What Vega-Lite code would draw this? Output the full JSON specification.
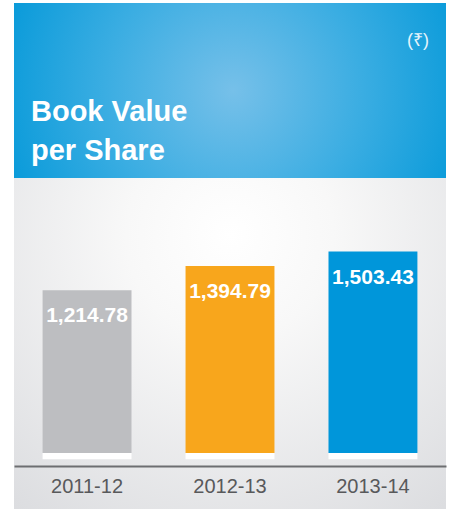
{
  "$schema": "https://vega.github.io/schema/vega-lite/v6.json",
  "padding": {"left": 14, "top": 3, "right": 5, "bottom": 0},
  "spacing": 0,
  "background": "white",
  "config": {
    "view": {"stroke": null},
    "font": "Liberation Sans"
  },
  "title": {
    "text": "(₹)",
    "orient": "top",
    "anchor": "end",
    "frame": "group",
    "offset": -61,
    "dx": -17,
    "baseline": "alphabetic",
    "fontSize": 18,
    "fontWeight": "normal",
    "color": "#e6f4fb"
  },
  "vconcat": [
    {
      "width": 432,
      "height": 175,
      "data": {"values": [{"title": "Book Value per Share"}]},
      "title": {
        "text": ["Book Value", "per Share"],
        "orient": "bottom",
        "anchor": "start",
        "frame": "group",
        "offset": -57,
        "dx": 17,
        "baseline": "alphabetic",
        "lineHeight": 39,
        "fontSize": 29,
        "fontWeight": "bold",
        "color": "white"
      },
      "mark": {
        "type": "rect",
        "color": {
          "gradient": "radial",
          "x1": 0.507, "y1": 0.5, "r1": 0,
          "x2": 0.507, "y2": 0.5, "r2": 0.6,
          "stops": [
            {"offset": 0, "color": "#76c0e9"},
            {"offset": 0.5, "color": "#3aade2"},
            {"offset": 1, "color": "#0097d8"}
          ]
        }
      },
      "encoding": {}
    },
    {
      "width": 432,
      "height": 331,
      "view": {
        "fill": {
          "gradient": "radial",
          "x1": 0.5, "y1": 0.25, "r1": 0,
          "x2": 0.5, "y2": 0.25, "r2": 0.8,
          "stops": [
            {"offset": 0, "color": "#ffffff"},
            {"offset": 0.3, "color": "#f8f8f8"},
            {"offset": 1, "color": "#dcdde0"}
          ]
        },
        "stroke": null
      },
      "data": {
        "values": [
          {"year": "2011-12", "value": 1214.78},
          {"year": "2012-13", "value": 1394.79},
          {"year": "2013-14", "value": 1503.43}
        ]
      },
      "encoding": {
        "x": {
          "field": "year",
          "type": "nominal",
          "sort": null,
          "scale": {"paddingInner": 0.378, "paddingOuter": 0.2},
          "axis": {
            "title": null,
            "labelAngle": 0,
            "ticks": false,
            "offset": -43,
            "domainColor": "#6d6e71",
            "domainWidth": 2,
            "labelFontSize": 20,
            "labelColor": "#58595b",
            "labelPadding": 10
          }
        }
      },
      "layer": [
        {
          "mark": {"type": "bar", "color": "white"},
          "encoding": {
            "y": {"datum": 0, "type": "quantitative", "scale": {"domain": [-418, 2052], "nice": false, "zero": false}, "axis": null},
            "y2": {"datum": -47}
          }
        },
        {
          "mark": {"type": "bar"},
          "encoding": {
            "y": {"field": "value", "type": "quantitative", "axis": null},
            "color": {
              "field": "year",
              "type": "nominal",
              "scale": {"domain": ["2011-12", "2012-13", "2013-14"], "range": ["#bdbec1", "#f8a61c", "#0096da"]},
              "legend": null
            }
          }
        },
        {
          "mark": {"type": "text", "color": "white", "fontWeight": "bold", "fontSize": 21, "baseline": "alphabetic", "dy": 32},
          "encoding": {
            "y": {"field": "value", "type": "quantitative", "axis": null},
            "text": {"field": "value", "type": "quantitative", "format": ",.2f"}
          }
        }
      ]
    }
  ]
}
